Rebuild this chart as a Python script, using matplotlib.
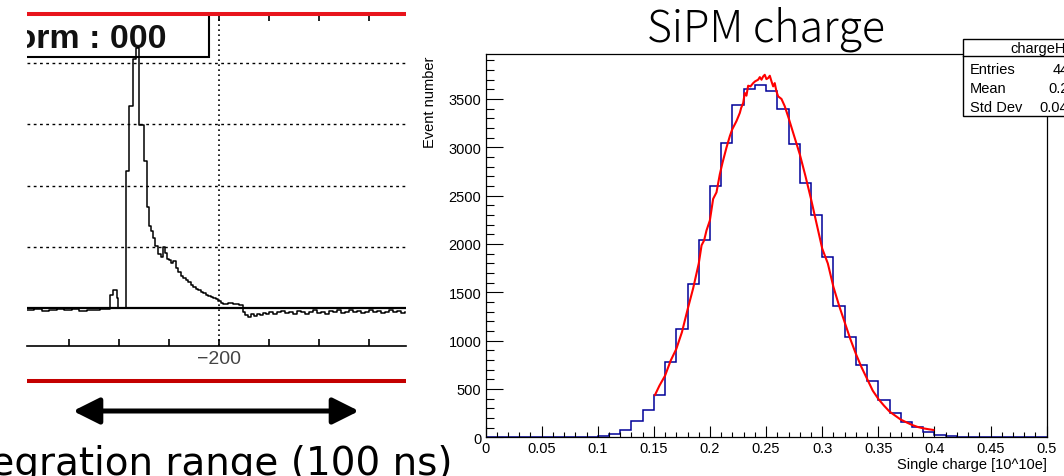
import numpy as np
import matplotlib
matplotlib.use('Agg')  # no display
import matplotlib.pyplot as plt
from matplotlib.patches import Rectangle
from matplotlib.ticker import MultipleLocator, FixedLocator, FuncFormatter

plt.rcParams['font.family'] = ['Liberation Sans', 'DejaVu Sans']

# ---- right panel: SiPM charge histogram (50 bins, 0 .. 0.5) ----
bin_edges = np.arange(51) * 0.01
counts = [0, 0, 0, 0, 0, 0, 0, 1, 3, 6,
          17, 38, 72, 172, 280, 435, 780, 1118, 1586, 2045,
          2596, 3048, 3435, 3606, 3647, 3586, 3401, 3031, 2634, 2298,
          1866, 1356, 1035, 745, 583, 383, 248, 155, 107, 52,
          28, 17, 7, 4, 2, 1, 0, 0, 0, 0]

# red fit curve
fit_x = [0.151, 0.155, 0.160, 0.165, 0.170, 0.175, 0.180, 0.185, 0.190, 0.1925,
         0.1948, 0.1969, 0.1999, 0.2028, 0.2058, 0.2088, 0.2112, 0.2147, 0.2177, 0.2198,
         0.2236, 0.2266, 0.2278, 0.2296, 0.2310, 0.2325, 0.2340, 0.2361, 0.2385, 0.2402,
         0.2429, 0.2444, 0.2459, 0.2474, 0.2488, 0.2503, 0.2518, 0.2533, 0.2548, 0.2563,
         0.2577, 0.2592, 0.2607, 0.2637, 0.2666, 0.270, 0.275, 0.280, 0.285, 0.290,
         0.295, 0.300, 0.305, 0.310, 0.315, 0.320, 0.325, 0.330, 0.335, 0.340,
         0.345, 0.350, 0.355, 0.360, 0.365, 0.370, 0.375, 0.380, 0.385, 0.390,
         0.395, 0.399]
fit_y = [438, 535, 638, 794, 914, 1087, 1320, 1541, 1798, 1986,
         2038, 2140, 2243, 2466, 2534, 2723, 2842, 2997, 3116, 3185,
         3271, 3356, 3408, 3459, 3562, 3534, 3637, 3630, 3664, 3682,
         3699, 3726, 3699, 3733, 3750, 3705, 3716, 3740, 3682, 3630,
         3664, 3579, 3527, 3500, 3425, 3305, 3116, 2928, 2705, 2466,
         2209, 1952, 1798, 1555, 1363, 1190, 1018, 863, 725, 604,
         483, 397, 328, 266, 224, 183, 155, 128, 107, 93,
         83, 76]

hist_title = 'SiPM charge'
stat_name = 'chargeHist'
stat_labels = ['Entries', 'Mean', 'Std Dev']
stat_values = ['44345', '0.2496', '0.04601']

# ---- left panel: single waveform ----
wave_t = [-277, -274, -271, -268, -265, -262, -259, -256, -253, -250,
          -247.5, -243.6, -242.6, -241.0, -240.4, -237.2, -235.9, -234.3, -233.4, -232.2,
          -230.0, -229.0, -228.0, -227.2, -226.4, -225.6, -224.6, -223.2, -222.4, -221.6,
          -220.8, -220.0, -219.2, -218.4, -217.4, -216.4, -215.4, -214.4, -213.4, -212.4,
          -211.4, -210.4, -209.4, -208.4, -207.4, -206.4, -205.4, -204.4, -203.4, -202.4,
          -201.4, -200.4, -199.4, -198.4, -196.4, -194.4, -192.0, -190.6, -189.6, -188.4,
          -187.2, -186.0, -184.8, -183.6, -182.4, -181.2, -180.0, -178.4, -176.8, -175.2,
          -173.6, -172.0, -170.4, -168.8, -167.2, -165.6, -164.0, -162.4, -160.8, -159.2,
          -157.6, -156.0, -154.4, -152.8, -151.2, -149.6, -148.0, -146.4, -144.8, -143.2,
          -141.6, -140.0, -138.4, -136.8, -135.2, -133.6, -132.0, -130.4, -128.8, -127.2,
          -125.6]
wave_v = [-0.04, -0.02, -0.05, -0.03, -0.01, -0.04, -0.02, -0.05, -0.03, -0.04,
          -0.02, 0.22, 0.30, 0.16, 0.0, 2.24, 3.30, 4.07, 4.25, 2.98,
          2.40, 1.65, 1.34, 1.25, 1.15, 1.02, 0.88, 0.84, 1.00, 0.90,
          0.80, 0.78, 0.74, 0.77, 0.66, 0.58, 0.53, 0.49, 0.46, 0.42,
          0.38, 0.34, 0.31, 0.29, 0.26, 0.24, 0.22, 0.20, 0.18, 0.16,
          0.14, 0.12, 0.08, 0.07, 0.08, 0.06, 0.05, -0.06, -0.11, -0.14,
          -0.10, -0.13, -0.09, -0.11, -0.08, -0.10, -0.06, -0.09, -0.07, -0.05,
          -0.08, -0.06, -0.09, -0.05, -0.07, -0.10, -0.06, -0.04, -0.08, -0.06,
          -0.09, -0.05, -0.07, -0.04, -0.08, -0.06, -0.03, -0.07, -0.05, -0.08,
          -0.06, -0.04, -0.07, -0.05, -0.08, -0.06, -0.04, -0.07, -0.05, -0.08,
          -0.06]
wave_grid = [1, 2, 3, 4]
wave_label = 'form : 000'
range_text = 'integration range (100 ns)'

W, H = 1064, 477
fig = plt.figure(figsize=(W / 100, H / 100), dpi=100)


def px_box(x0, y0, x1, y1):
    # pixel box (top-left origin) -> figure fraction rect
    return [x0 / W, 1 - y1 / H, (x1 - x0) / W, (y1 - y0) / H]


# ---------------- left: waveform screenshot ----------------
axL = fig.add_axes(px_box(27, 15, 405.7, 346.7))
axL.set_xlim(-276.9, -125.3)
axL.set_ylim(-0.615, 4.80)
axL.plot(wave_t, wave_v, drawstyle='steps-post', color='black', lw=1.1, zorder=4)
axL.axhline(0, color='black', lw=1.6, zorder=3)
for s in ['left', 'right', 'top']:
    axL.spines[s].set_visible(False)
axL.spines['bottom'].set_linewidth(1.2)
axL.xaxis.set_major_locator(FixedLocator([-200]))
axL.xaxis.set_minor_locator(MultipleLocator(20))
axL.xaxis.set_major_formatter(FuncFormatter(lambda v, p: f'{v:g}'.replace('-', '\u2212')))
axL.tick_params(axis='x', which='both', direction='in', top=True, length=5, width=1.2,
                labelsize=14, labelcolor='#444444', pad=3)
axL.set_yticks(wave_grid)
axL.tick_params(axis='y', length=0, labelleft=False)
axL.grid(axis='y', color='black', lw=1.0, linestyle=(0, (2, 2.5)))
axL.grid(axis='x', which='major', color='black', lw=1.2, linestyle=(0, (1, 2)))
axL.add_patch(Rectangle((-300, 4.10), 96, 1.0, facecolor='white', edgecolor='black',
                        lw=1.5, zorder=3.5, clip_on=True))
axL.text(-221.2, 4.26, wave_label, ha='right', va='baseline', fontsize=24.5,
         fontweight='bold', color='#111111', zorder=3.6, clip_on=True)

# ---------------- right: charge histogram ----------------
axR = fig.add_axes(px_box(485.5, 55, 1046.7, 438.3))
axR.stairs(counts, bin_edges, color='#000099', lw=1.1)
axR.plot(fit_x, fit_y, color='#ff0000', lw=1.5)
axR.set_xlim(0, 0.5)
axR.set_ylim(0, 3965)
axR.xaxis.set_major_locator(MultipleLocator(0.05))
axR.xaxis.set_minor_locator(MultipleLocator(0.01))
axR.yaxis.set_major_locator(MultipleLocator(500))
axR.yaxis.set_minor_locator(MultipleLocator(100))
axR.xaxis.set_major_formatter(FuncFormatter(lambda v, p: f'{v:g}'))
axR.tick_params(which='both', direction='in', labelsize=10.5, width=0.8)
axR.tick_params(axis='y', which='major', length=12, pad=3)
axR.tick_params(axis='y', which='minor', length=6)
axR.tick_params(axis='x', which='major', length=7.7, pad=3)
axR.tick_params(axis='x', which='minor', length=3.6)
for s in axR.spines.values():
    s.set_linewidth(0.9)

# ---------------- overlay: annotations in pixel coords ----------------
ov = fig.add_axes([0, 0, 1, 1], zorder=10)
ov.set_xlim(0, W)
ov.set_ylim(H, 0)
ov.axis('off')

ov.plot([27, 405.7], [15, 15], color='#e8141c', lw=2.9, solid_capstyle='butt')
ov.plot([27, 405.7], [381.7, 381.7], color='#c40000', lw=2.9, solid_capstyle='butt')
ov.annotate('', xy=(73, 412), xytext=(359, 412),
            arrowprops=dict(arrowstyle='<|-|>,head_length=0.8,head_width=0.4',
                            lw=3.6, color='black', mutation_scale=20,
                            shrinkA=0, shrinkB=0))
ov.text(453, 475, range_text, ha='right', va='baseline', fontsize=28,
        family='DejaVu Sans')

ov.text(766, 41, hist_title, ha='center', va='baseline', fontsize=31,
        family=['Noto Sans CJK JP', 'DejaVu Sans'], fontweight='light')
ov.text(430, 57, 'Event number', rotation=90, ha='center', va='top', fontsize=10.5)
ov.text(1047, 465, 'Single charge [10^10e]', ha='right', va='center', fontsize=10.5)

# stats box
ov.add_patch(Rectangle((962.5, 40), 200, 77, facecolor='white', edgecolor='black', lw=1))
ov.plot([962.5, 1100], [57, 57], color='black', lw=1)
ov.text(1010, 49.5, stat_name, ha='left', va='center', fontsize=10.5)
for i, (lab, val) in enumerate(zip(stat_labels, stat_values)):
    yy = 70.5 + i * 18.5
    ov.text(970, yy, lab, ha='left', va='center', fontsize=10.5)
    ov.text(1093, yy, val, ha='right', va='center', fontsize=10.5)

fig.savefig('out.png', dpi=100)
